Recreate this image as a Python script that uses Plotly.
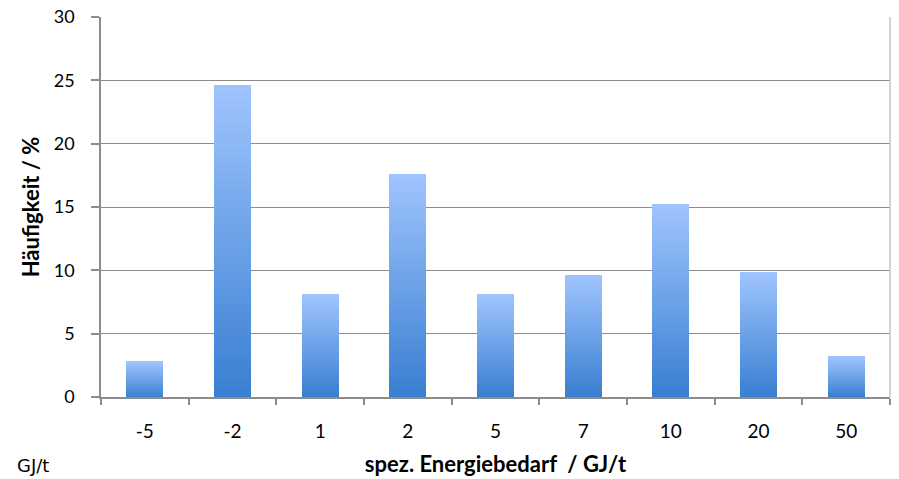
import plotly.graph_objects as go

categories = ["-5", "-2", "1", "2", "5", "7", "10", "20", "50"]
frequency_pct = [2.8, 24.6, 8.1, 17.6, 8.1, 9.6, 15.2, 9.9, 3.2]
y_ticks = [0, 5, 10, 15, 20, 25, 30]

x_title = "spez. Energiebedarf  / GJ/t"
y_title = "Häufigkeit / %"

# vertical gradient for bars: stacked slices, dark at bottom, light at top
N = 40
c_bot = (58, 127, 210)
c_top = (158, 196, 253)

fig = go.Figure()
for i in range(N):
    t = i / (N - 1)
    col = "rgb(%d,%d,%d)" % tuple(round(a + (b - a) * t) for a, b in zip(c_bot, c_top))
    fig.add_trace(go.Bar(
        x=categories,
        y=[v / N for v in frequency_pct],
        marker=dict(color=col, line=dict(width=0)),
        width=0.42,
        showlegend=False,
        hoverinfo="skip" if i else "x+y",
    ))

W, H = 899, 479
L, R, T, B = 101, 9, 17, 82
PH = H - T - B
FONT = "Lato"
fig.update_layout(
    barmode="stack",
    bargap=0.58,
    width=W, height=H,
    margin=dict(l=L, r=R, t=T, b=B),
    paper_bgcolor="white", plot_bgcolor="white",
    font=dict(family=FONT, size=18, color="black"),
    xaxis=dict(
        type="category", automargin=False,
        categoryorder="array", categoryarray=categories,
        showline=True, linecolor="#8c8c8c", linewidth=1.5,
        ticks="outside", ticklen=6, tickcolor="#8c8c8c", tickwidth=1.5,
        tickson="boundaries",
        showgrid=False,
        ticklabelstandoff=16,
        tickfont=dict(size=19),
        title=dict(text="<b>" + x_title + "</b>", font=dict(size=22), standoff=16),
    ),
    yaxis=dict(
        range=[0, 30.0001], tickvals=y_ticks, automargin=False,
        showline=True, linecolor="#8c8c8c", linewidth=1.5,
        ticks="outside", ticklen=8, tickcolor="#8c8c8c", tickwidth=1.5,
        showgrid=True, gridcolor="#8c8c8c", gridwidth=1.3,
        ticklabelstandoff=13, ticklabeloverflow="allow",
        zeroline=False,
        title=dict(text="<b>" + y_title + "</b>", font=dict(size=22), standoff=8),
    ),
    shapes=[dict(type="line", xref="paper", yref="paper", x0=1, x1=1, y0=0, y1=1,
                 line=dict(color="#c4c4c4", width=1.5))],
    annotations=[dict(text="GJ/t", xref="paper", yref="paper",
                      x=(51 - L) / (W - L - R), y=-(478 - (H - B)) / PH,
                      xanchor="right", yanchor="bottom", showarrow=False,
                      font=dict(family="DejaVu Sans", size=18, color="black"))],
)

fig.write_html("out.html", config={"displayModeBar": False},
               post_script="document.body.style.margin='0';")
